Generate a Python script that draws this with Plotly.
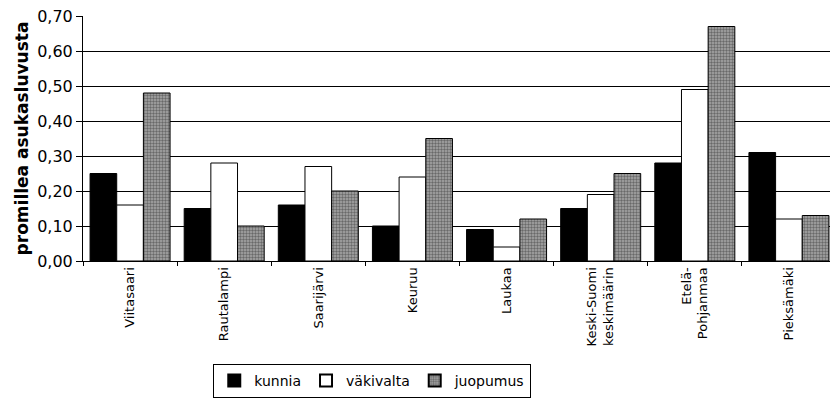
import plotly.graph_objects as go

alueet = ["Viitasaari", "Rautalampi", "Saarijärvi", "Keuruu", "Laukaa",
          "Keski-Suomi<br>keskimäärin", "Etelä-<br>Pohjanmaa", "Pieksämäki"]
kunnia = [0.25, 0.15, 0.16, 0.10, 0.09, 0.15, 0.28, 0.31]
vakivalta = [0.16, 0.28, 0.27, 0.24, 0.04, 0.19, 0.49, 0.12]
juopumus = [0.48, 0.10, 0.20, 0.35, 0.12, 0.25, 0.67, 0.13]

FONT = "'DejaVu Sans', sans-serif"

fig = go.Figure()
fig.add_trace(go.Bar(x=alueet, y=kunnia, name="kunnia",
                     marker=dict(color="black", line=dict(color="black", width=1))))
fig.add_trace(go.Bar(x=alueet, y=vakivalta, name="väkivalta",
                     marker=dict(color="white", line=dict(color="black", width=1))))
fig.add_trace(go.Bar(x=alueet, y=juopumus, name="juopumus",
                     marker=dict(color="#8a8a8a", line=dict(color="black", width=1),
                                 pattern=dict(shape=".", fgcolor="#2a2a2a", bgcolor="#a8a8a8",
                                              size=3, solidity=0.5))))

# page body adds an 8px margin, so the figure is a bit smaller than the window
fig.update_layout(
    width=830, height=411,
    barmode="group", bargap=0.15, bargroupgap=0,
    margin=dict(l=75, r=2, t=8, b=158),
    paper_bgcolor="white", plot_bgcolor="white",
    font=dict(family=FONT, size=13, color="black"),
    separators=",.",
    showlegend=True,
    legend=dict(orientation="h", x=0.173, xanchor="left", y=-0.42, yanchor="top",
                bordercolor="black", borderwidth=1, font=dict(size=14, color="black"),
                itemwidth=30, itemsizing="constant"),
    xaxis=dict(tickangle=-90, ticks="outside", tickson="boundaries", ticklen=4,
               tickcolor="black", showline=True, linecolor="black", linewidth=1,
               tickfont=dict(size=13, color="black"), automargin=False),
    yaxis=dict(range=[0, 0.7], dtick=0.1, tickformat=".2f", showgrid=True,
               gridcolor="black", gridwidth=1, showline=True, linecolor="black",
               ticks="outside", ticklen=6, tickcolor="black",
               tickfont=dict(size=16), zeroline=False, automargin=False,
               ticklabeloverflow="allow",
               title=dict(text="<b>promillea asukasluvusta</b>", font=dict(size=17),
                          standoff=4)),
)

fig.write_html("out.html")
